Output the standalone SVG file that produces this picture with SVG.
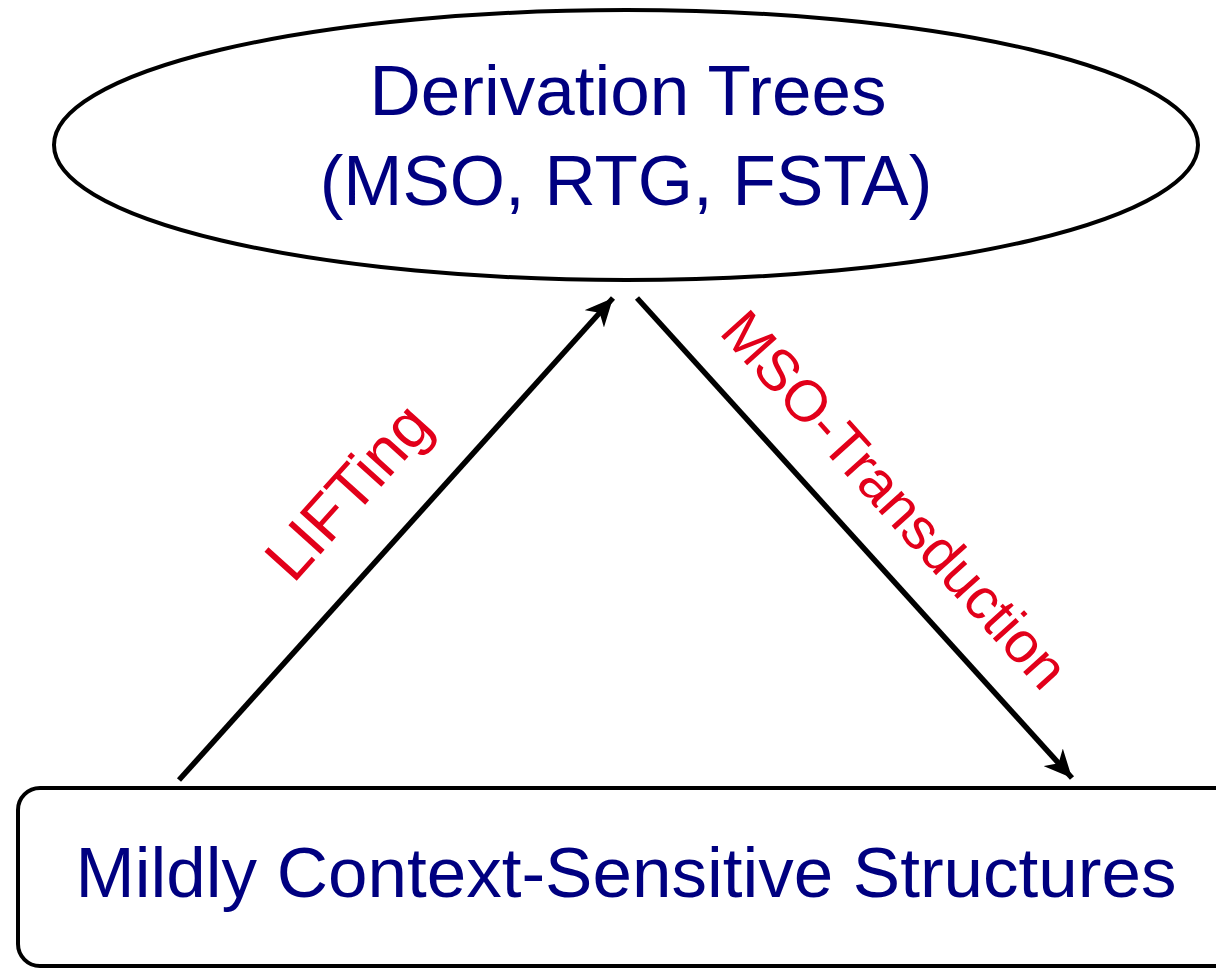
<svg xmlns="http://www.w3.org/2000/svg" width="1216" height="968" viewBox="0 0 1216 968">
<style>
.node{fill:#fff;stroke:#000;stroke-width:4}
.main{font-family:"Liberation Sans",Arial,sans-serif;font-size:71px;fill:#000080;text-anchor:middle}
.lbl{font-family:"Liberation Sans",Arial,sans-serif;font-size:58px;fill:#e2001a;text-anchor:middle}
.edge{stroke:#000;stroke-width:5.5;fill:none}
</style>
<defs>
<marker id="ah" markerWidth="32" markerHeight="26" refX="28" refY="13" orient="auto" markerUnits="userSpaceOnUse">
<path d="M28,13 L0,0 L8,13 L0,26 Z" fill="#000"/>
</marker>
</defs>
<rect width="1216" height="968" fill="#fff"/>
<g id="derivation-trees">
<ellipse class="node" cx="626" cy="145" rx="572" ry="135"/>
<text class="main" x="628" y="115">Derivation Trees</text>
<text class="main" x="626" y="205">(MSO, RTG, FSTA)</text>
</g>
<g id="mcs-structures">
<rect class="node" x="18" y="788" width="1240" height="178" rx="22" ry="22"/>
<text class="main" x="626" y="897">Mildly Context-Sensitive Structures</text>
</g>
<g id="connectors">
<line class="edge" x1="179" y1="780" x2="613" y2="298" marker-end="url(#ah)"/>
<line class="edge" x1="637" y1="298" x2="1072" y2="778" marker-end="url(#ah)"/>
<text class="lbl" style="font-size:63px" transform="translate(364,506) rotate(-48)">LIFTing</text>
<text class="lbl" transform="translate(880,513) rotate(48)">MSO-Transduction</text>
</g>
</svg>
